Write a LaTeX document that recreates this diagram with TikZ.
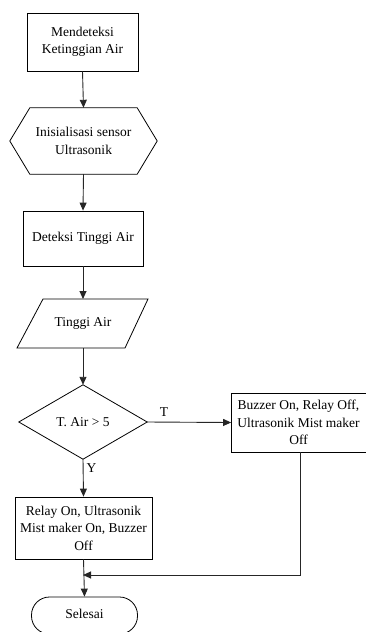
\documentclass[tikz,border=0pt]{standalone}
\usepackage{fontspec}
\setmainfont{Liberation Serif}
\usetikzlibrary{arrows.meta}
\begin{document}
\begin{tikzpicture}[x=1pt,y=-1pt,
  txt/.style={align=center,font=\fontsize{13.5}{17.5}\selectfont,inner sep=0pt},
  boxnode/.style={txt,draw,line width=0.8pt},
  conn/.style={line width=0.9pt,draw=black!85,-{Triangle[length=8pt,width=7pt]}},
  shp/.style={line width=0.8pt,draw=black}]
\useasboundingbox (0,0) rectangle (366,632);
\clip (0,0) rectangle (366,632);
% box 1
\node[boxnode,minimum width=111pt,minimum height=58pt] (b1) at (82.5,42) {Mendeteksi\\Ketinggian Air};
% hexagon
\node[txt,minimum width=147pt,minimum height=66pt] (hex) at (83.5,141) {Inisialisasi sensor\\Ultrasonik};
\draw[shp] (hex.west) -- ([xshift=20pt]hex.north west) -- ([xshift=-20pt]hex.north east) -- (hex.east) -- ([xshift=-20pt]hex.south east) -- ([xshift=20pt]hex.south west) -- cycle;
% box 3
\node[boxnode,minimum width=120pt,minimum height=55pt] (b3) at (83,238.5) {Deteksi Tinggi Air};
% parallelogram
\node[txt,minimum width=80pt,minimum height=49pt] (par) at (83,323.5) {Tinggi Air};
\draw[shp] (43,299) -- (148,299) -- (125,348) -- (17,348) -- cycle;
% diamond
\node[txt,minimum width=128pt,minimum height=74pt] (dec) at (83,422) {T. Air > 5};
\draw[shp] (dec.north) -- (dec.east) -- (dec.south) -- (dec.west) -- cycle;
% box 5
\node[boxnode,minimum width=137pt,minimum height=62pt] (b5) at (83.5,528) {Relay On, Ultrasonik\\Mist maker On, Buzzer\\Off};
% box 6
\node[boxnode,minimum width=140pt,minimum height=59pt] (b6) at (301.5,422.5) {};
\node[txt] (b6t) at (298.5,422.5) {Buzzer On, Relay Off,\\Ultrasonik Mist maker\\Off};
% terminator
\node[txt,draw,line width=0.8pt,rounded corners=18pt,minimum width=106pt,minimum height=37pt] (end) at (84.5,615.5) {};
\node[txt] (endt) at (84.5,614) {Selesai};
% connectors
\draw[conn] (b1.south) -- (hex.north);
\draw[conn] (hex.south) -- (b3.north);
\draw[conn] (b3.south) -- (83,299);
\draw[conn] (83,348) -- (dec.north);
\draw[conn] (dec.south) -- node[txt,right=3pt,pos=0.25] (ylab) {Y} (b5.north);
\draw[conn] (dec.east) -- node[txt,above=5pt,pos=0.2] (tlab) {T} (b6.west);
\coordinate (jn) at (83,575);
\coordinate (dn) at (300,452);
\draw[conn] (b5.south) -- (end.north);
\draw[conn] (dn) |- (jn);
\end{tikzpicture}
\end{document}
